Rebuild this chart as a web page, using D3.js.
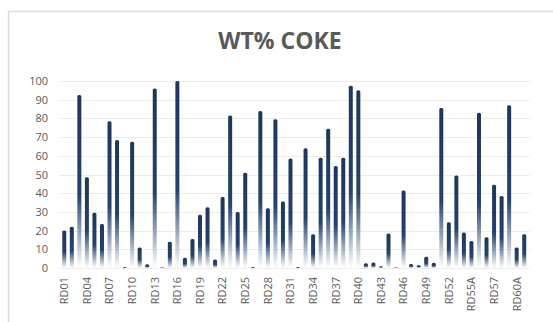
<!DOCTYPE html>
<html>
<head>
<meta charset="utf-8">
<script src="https://cdn.jsdelivr.net/npm/d3@7"></script>
<style>
  body { margin: 0; background: #fff; }
  text { font-family: "Open Sans", sans-serif; }
</style>
</head>
<body>
<div id="chart"></div>
<script>
// categories (one per bar), only every third one gets a label
var samples = ["RD01","RD02","RD03","RD04","RD05","RD06","RD07","RD08","RD09","RD10",
  "RD11","RD12","RD13","RD14","RD15","RD16","RD17","RD18","RD19","RD20",
  "RD21","RD22","RD23","RD24","RD25","RD26","RD27","RD28","RD29","RD30",
  "RD31","RD32","RD33","RD34","RD35","RD36","RD37","RD38","RD39","RD40",
  "RD41","RD42","RD43","RD44","RD45","RD46","RD47","RD48","RD49","RD50",
  "RD51","RD52","RD53","RD54","RD55A","RD55B","RD56","RD57","RD58","RD59",
  "RD60A","RD60B"];

var cokeWt = [20,22,92.5,48.5,29.5,23.5,78.5,68.5,0.5,67.5,
  11,2,96,0.3,14,100,5.5,15.5,28.5,32.5,
  4.5,38,81.5,30,51,0.5,84,32,79.5,35.5,
  58.5,0.5,64,18,59,74.5,54.5,59,97.5,95,
  2.5,3,1,18.5,0.3,41.5,2.2,1.5,6,2.8,
  85.5,24.5,49.5,19,14.5,83,16.5,44.5,38.5,87,
  11,18];

var yTicks = [0,10,20,30,40,50,60,70,80,90,100];

var width = 553,
    height = 322;

var svg = d3.select("#chart")
  .append("svg")
    .attr("width", width)
    .attr("height", height);

// bar fill: navy at the top fading out to white at the bottom
var grad = svg.append("defs")
  .append("linearGradient")
    .attr("id", "barFill")
    .attr("x1", 0).attr("y1", 0)
    .attr("x2", 0).attr("y2", 1);
grad.append("stop").attr("offset", "0%").attr("stop-color", "#1d375d");
grad.append("stop").attr("offset", "58%").attr("stop-color", "#24426c");
grad.append("stop").attr("offset", "100%").attr("stop-color", "#ffffff");

// chart area border (cut off on the right and bottom)
svg.append("rect")
  .attr("x", 8.5)
  .attr("y", 11.5)
  .attr("width", 700)
  .attr("height", 400)
  .attr("fill", "none")
  .attr("stroke", "#d9d9d9")
  .attr("stroke-width", 1.5);

svg.append("text")
  .attr("x", 280)
  .attr("y", 48.5)
  .attr("text-anchor", "middle")
  .style("font-size", "23px")
  .style("font-weight", "bold")
  .attr("fill", "#595959")
  .text("WT% COKE");

var x = d3.scaleBand()
  .domain(samples)
  .range([60.5, 528])
  .paddingInner(0.47)
  .paddingOuter(0.235);

var y = d3.scaleLinear()
  .domain([0, 100])
  .range([268, 81]);

// gridlines
svg.append("g")
  .selectAll("line")
  .data(yTicks)
  .enter()
  .append("line")
    .attr("x1", 60)
    .attr("x2", 530)
    .attr("y1", function(d) { return Math.round(y(d)) + 0.5; })
    .attr("y2", function(d) { return Math.round(y(d)) + 0.5; })
    .attr("stroke", "#ececec")
    .attr("stroke-width", 1);

// y axis labels
var yAxis = d3.axisLeft(y)
  .tickValues(yTicks)
  .tickSize(0)
  .tickPadding(0);

svg.append("g")
  .attr("transform", "translate(48,0)")
  .call(yAxis)
  .call(function(g) { g.select(".domain").remove(); })
  .selectAll("text")
    .style("font-size", "11px")
    .style("font-family", "'Open Sans', sans-serif")
    .attr("fill", "#595959");

// x axis labels, every third category
var xAxis = d3.axisBottom(x)
  .tickValues(samples.filter(function(d, i) { return i % 3 == 0; }))
  .tickSize(0)
  .tickPadding(0);

svg.append("g")
  .attr("transform", "translate(0,277)")
  .call(xAxis)
  .call(function(g) { g.select(".domain").remove(); })
  .selectAll("text")
    .attr("transform", "rotate(-90)")
    .attr("text-anchor", "end")
    .attr("x", 0)
    .attr("y", 0)
    .attr("dy", "0.35em")
    .style("font-size", "11px")
    .style("font-family", "'Open Sans', sans-serif")
    .attr("fill", "#595959");

// bars
svg.append("g")
  .selectAll("rect")
  .data(cokeWt)
  .enter()
  .append("rect")
    .attr("x", function(d, i) { return x(samples[i]); })
    .attr("y", function(d) { return y(d); })
    .attr("width", x.bandwidth())
    .attr("height", function(d) { return y(0) - y(d); })
    .attr("rx", 1.5)
    .attr("fill", "url(#barFill)");
</script>
</body>
</html>
